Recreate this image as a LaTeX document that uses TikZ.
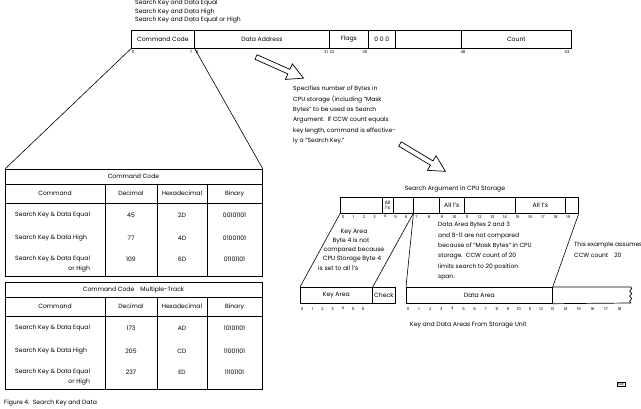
\documentclass[tikz,border=0pt]{standalone}
\usepackage{fontspec}
\setmainfont{Poppins}
\usetikzlibrary{positioning, calc, decorations.pathmorphing}

\tikzset{
    % Text styles
    txt/.style={font=\fontsize{6.1}{7}\selectfont, inner sep=0pt},
    note/.style={txt, align=left, font=\fontsize{6}{10.4}\selectfont, anchor=north west},
    bitnum/.style={font=\fontsize{3.9}{4.5}\selectfont, inner sep=0pt, anchor=north},
    % Box styles
    field/.style={rectangle, draw, line width=0.7pt, inner sep=0pt, anchor=north west,
                  align=center, font=\fontsize{6.1}{7}\selectfont},
    tablebox/.style={field, line width=0.9pt, minimum width=257pt, minimum height=107pt},
    rule/.style={line width=0.7pt},
    link/.style={line width=0.6pt},
    hollow arrow/.style={draw, line width=0.7pt, fill=white, line join=miter},
}

\begin{document}
\begin{tikzpicture}[x=1pt, y=-1pt]
    \useasboundingbox (0,0) rectangle (641,409);

    % Command names over the CCW
    \node[txt, anchor=west] (name1) at (135,3) {Search Key and Data Equal};
    \node[txt, anchor=west] (name2) at (135,11.7) {Search Key and Data High};
    \node[txt, anchor=west] (name3) at (135,20.4) {Search Key and Data Equal or High};

    % CCW fields
    \foreach \n/\x/\w/\t in {cc/131/63/Command Code, addr/194/135/Data Address,
                             flags/329/39/Flags, zeros/368/27/0 0 0,
                             spare/395/66/, count/461/110/Count} {
        \node[field, minimum width=\w pt, minimum height=18pt] (\n) at (\x,30) {\t};
    }
    \foreach \x/\b in {133/0, 191/7, 197/8, 326/31, 332/32, 365/36, 463/48, 567/63} {
        \node[bitnum] (bit\b) at (\x,50) {\b};
    }

    % Hollow arrows
    \draw[hollow arrow, shift={(256,57)}, rotate=-24]
        (0,-2.5) -- (36,-2.5) -- (36,-8.5) -- (52,0) -- (36,8.5) -- (36,2.5) -- (0,2.5) -- cycle;
    \draw[hollow arrow, shift={(400,144)}, rotate=-31]
        (0,-2.5) -- (37,-2.5) -- (37,-8.5) -- (53,0) -- (37,8.5) -- (37,2.5) -- (0,2.5) -- cycle;

    % Count note
    \node[note] (countnote) at (293,86) {Specifies number of Bytes in\\
        CPU storage (including ``Mask\\
        Bytes'' to be used as Search\\
        Argument.\ \ If CCW count equals\\
        key length, command is effective-\\
        ly a ``Search Key.''};

    % Command code tables
    \foreach \dy/\n/\title in {0/tabA/Command Code, 113/tabB/Command Code\quad Multiple-Track} {
        \begin{scope}[shift={(0,\dy)}]
            \node[tablebox] (\n) at (5,169) {};
            \draw[rule] (5,184) -- (262,184) (5,203) -- (262,203);
            \foreach \x in {105,157,207} {
                \draw[rule] (\x,184) -- (\x,276);
            }
            \node[txt] at (133.5,176.5) {\title};
            \foreach \x/\h in {55/Command, 131/Decimal, 182/Hexadecimal, 234.5/Binary} {
                \node[txt] at (\x,193.5) {\h};
            }
            \node[txt, anchor=west] (\n q1) at (15,215) {Search Key \& Data Equal};
            \node[txt, anchor=west] (\n q2) at (15,238) {Search Key \& Data High};
            \node[txt, anchor=west] (\n q3) at (15,259) {Search Key \& Data Equal};
            \node[txt, anchor=base east] at ([yshift=-10pt]\n q3.base east) {or High};
        \end{scope}
    }
    \foreach \y/\d/\h/\b in {215/45/2D/00101101, 238/77/4D/01001101, 259/109/6D/01101101,
                             328/173/AD/10101101, 351/205/CD/11001101, 372/237/ED/11101101} {
        \node[txt] at (131,\y) {\d};
        \node[txt] at (182,\y) {\h};
        \node[txt] at (234.5,\y) {\b};
    }
    \draw[link] (cc.south west) -- (tabA.north west);
    \draw[link] (cc.south east) -- (tabA.north east);

    % Search argument in CPU storage
    \node[txt] (argtitle) at (455,189) {Search Argument in CPU Storage};
    \node[field, minimum width=238pt, minimum height=16pt] (arg) at (340,197) {};
    \node[field, minimum width=10.5pt, minimum height=16pt,
          font=\fontsize{4.8}{5.4}\selectfont] (mask1) at (382,197) {All\\1's};
    \node[field, minimum width=25.3pt, minimum height=16pt] (mask2) at (438.8,197) {All 1's};
    \node[field, minimum width=50.6pt, minimum height=16pt] (mask3) at (514.7,197) {All 1's};
    \draw[rule, line width=1.2pt] (413.5,197) -- (413.5,213);
    \draw[rule] (565.3,197) -- (565.3,213);
    \coordinate (k7) at (413.5,213);
    \foreach \i in {0,...,6} {
        \node[bitnum] at ({343+\i*10.5},215) {\i};
    }
    \foreach \i in {7,...,19} {
        \node[bitnum] at ({327.95+\i*12.65},215) {\i};
    }

    % Key and data areas on the track
    \node[field, minimum width=72pt, minimum height=16pt] (keyarea) at (300,287) {Key Area};
    \node[field, minimum width=23pt, minimum height=16pt] (check) at (372,287) {Check};
    \node[field, minimum width=146pt, minimum height=16pt] (dataarea) at (406,287) {Data Area};
    \draw[rule] (dataarea.north east) -- ++(78,0)
        decorate[decoration={snake, amplitude=1pt, segment length=5pt}] {-- ++(0,16)}
        -- (dataarea.south east);
    \foreach \i in {0,...,6} {
        \node[bitnum] at ({302+\i*10.2},307) {\i};
    }
    \foreach \i in {0,...,13} {
        \node[bitnum] at ({408+\i*11.1},307) {\i};
    }
    \foreach \i in {14,...,18} {
        \node[bitnum] at ({552+(\i-13)*13.5},307) {\i};
    }
    \draw[link] (arg.south west) -- (keyarea.north west);
    \draw[link] (k7) -- (keyarea.north east);
    \draw[link] (k7) -- (dataarea.north west);
    \draw[link] (arg.south east) -- (dataarea.north east);

    % Notes between the bars
    \node[txt] (keynote1) at (354,232) {Key Area};
    \node[txt] (keynote2) at (351,241) {Byte 4 is not};
    \node[txt] (keynote3) at (354,250) {compared because};
    \node[txt] (keynote4) at (352,259) {CPU Storage Byte 4};
    \node[txt, anchor=west] (keynote5) at (318,268) {is set to all 1's};
    \node[note] (datanote) at (438,222) {Data Area Bytes 2 and 3\\
        and 8-11 are not compared\\
        because of ``Mask Bytes'' in CPU\\
        storage.\ \ CCW count of 20\\
        limits search to 20 position\\
        span.};
    \node[note] (ccwnote) at (574,242) {This example assumes\\CCW count\quad 20};
    \node[txt, anchor=west] (trackcap) at (410,325) {Key and Data Areas From Storage Unit};

    % Figure caption and stamp
    \node[txt, anchor=west] (figcap) at (4,403) {Figure 4.\ \ Search Key and Data};
    \node[draw, line width=0.4pt, inner sep=0.8pt, font=\fontsize{3}{3}\selectfont] (stamp)
        at (621,384.5) {11281};
\end{tikzpicture}
\end{document}
